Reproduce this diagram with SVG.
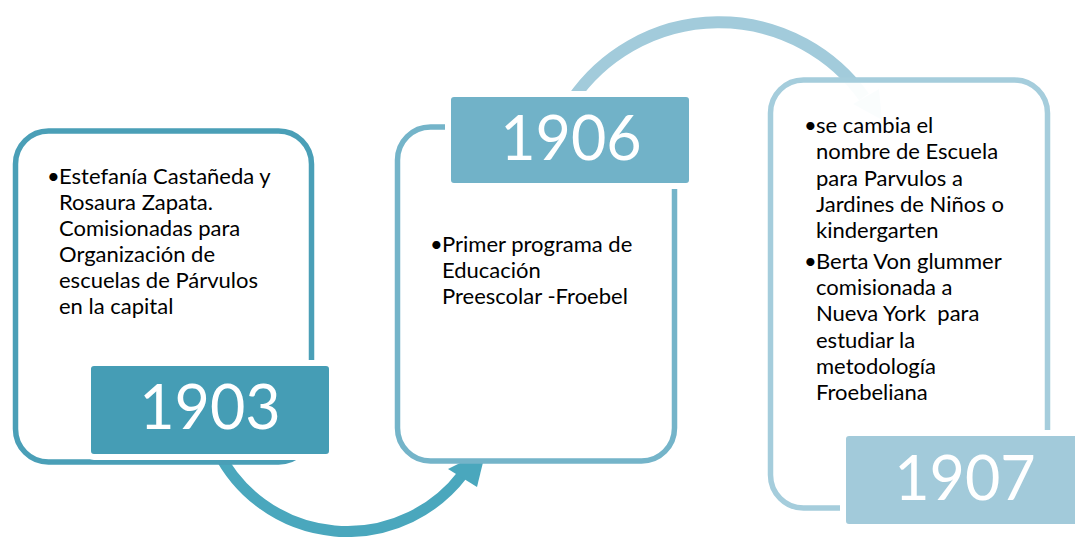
<svg xmlns="http://www.w3.org/2000/svg" width="1075" height="537" viewBox="0 0 1075 537">
<style>
.txt{font-family:Lato,"Open Sans","Liberation Sans",sans-serif;font-size:22px;fill:#000}
.num{font-family:Lato,"Open Sans","Liberation Sans",sans-serif;font-size:61px;fill:#fff;text-anchor:middle}
.lbl{stroke:#fff;stroke-width:6}
.box{fill:#fff;stroke-width:5.5}
</style>
<rect width="1075" height="537" fill="#fff"/>
<g id="connectors">
  <path d="M 218 452 A 145 145 0 0 0 463 474" fill="none" stroke="#4AA7BD" stroke-width="11"/>
  <polygon points="448,469 486,450 477,487" fill="#4AA7BD"/>
  <path d="M 572 100 A 178 178 0 0 1 864 97" fill="none" stroke="#A2CBDB" stroke-width="12"/>
  <polygon points="853,104 879,89 882,120" fill="#A2CBDB"/>
</g>
<g id="node-1903">
  <rect class="box" x="15.5" y="131" width="296" height="331" rx="33" stroke="#4A9FB7"/>
  <rect class="lbl" x="88" y="363" width="244" height="94" rx="6" fill="#459DB5"/>
  <text class="num" x="210" y="429">1903</text>
  <text class="txt"><tspan x="47" y="184">•</tspan><tspan x="59" y="184">Estefanía Castañeda y</tspan><tspan x="59" y="210">Rosaura Zapata.</tspan><tspan x="59" y="236">Comisionadas para</tspan><tspan x="59" y="262">Organización de</tspan><tspan x="59" y="288">escuelas de Párvulos</tspan><tspan x="59" y="314">en la capital</tspan></text>
</g>
<g id="node-1906">
  <rect class="box" x="397.5" y="127" width="277" height="334" rx="33" stroke="#74B4C9"/>
  <rect class="lbl" x="448" y="94" width="244" height="92" rx="6" fill="#71B2C8"/>
  <text class="num" x="571" y="160">1906</text>
  <text class="txt"><tspan x="430" y="252">•</tspan><tspan x="442" y="252">Primer programa de</tspan><tspan x="442" y="278">Educación</tspan><tspan x="442" y="304">Preescolar -Froebel</tspan></text>
</g>
<g id="node-1907">
  <rect x="770.5" y="80" width="277" height="428" rx="33" fill="#fff" fill-opacity="0.95" stroke="#A5CDDC" stroke-width="5.5"/>
  <rect class="lbl" x="843" y="433" width="240" height="94" rx="6" fill="#A2CADA"/>
  <text class="num" x="965" y="500">1907</text>
  <text class="txt"><tspan x="804" y="133">•</tspan><tspan x="816" y="133">se cambia el</tspan><tspan x="816" y="159">nombre de Escuela</tspan><tspan x="816" y="186">para Parvulos a</tspan><tspan x="816" y="212">Jardines de Niños o</tspan><tspan x="816" y="238">kindergarten</tspan><tspan x="804" y="269">•</tspan><tspan x="816" y="269">Berta Von glummer</tspan><tspan x="816" y="295">comisionada a</tspan><tspan x="816" y="321" style="white-space:pre">Nueva York  para</tspan><tspan x="816" y="348">estudiar la</tspan><tspan x="816" y="374">metodología</tspan><tspan x="816" y="400">Froebeliana</tspan></text>
</g>
</svg>
